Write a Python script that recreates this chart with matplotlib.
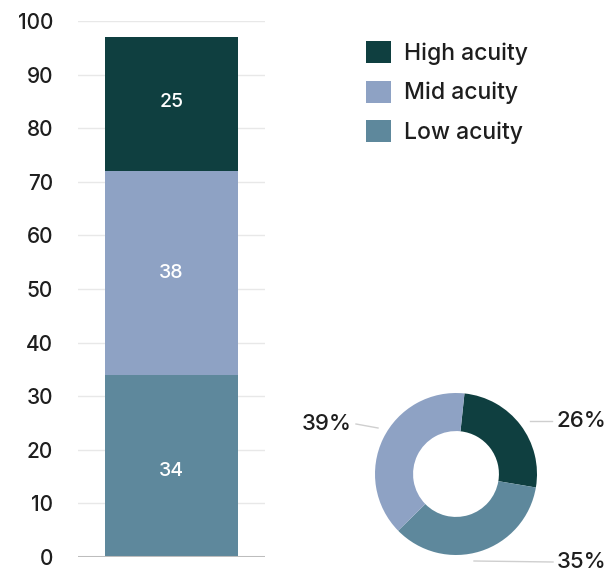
import matplotlib
matplotlib.use("Agg")
import matplotlib.pyplot as plt
from matplotlib.patches import Patch

plt.rcParams['font.family'] = ['Inter', 'DejaVu Sans']

categories = ["High acuity", "Mid acuity", "Low acuity"]
bar_values = [25, 38, 34]          # High, Mid, Low
pie_labels = ["26%", "35%", "39%"]  # High, Low, Mid (clockwise order)
pie_values = [26, 35, 39]
yticks = [0, 10, 20, 30, 40, 50, 60, 70, 80, 90, 100]

c_high = "#0f3f40"
c_mid = "#8ea2c4"
c_low = "#5e889c"
tc = "#1e1e1e"

W, H = 613, 575
fig = plt.figure(figsize=(W / 100, H / 100), dpi=100)

# ---- stacked bar ----
ax = fig.add_axes([78 / W, (H - 557) / H, 187 / W, 536 / H])
ax.set_xlim(-0.5, 0.5)
ax.set_ylim(0, 100)
for y in yticks[1:]:
    ax.axhline(y, color="#e8e8e8", lw=1.0, zorder=0)
ax.axhline(0, color="#bdbdbd", lw=2.2, zorder=3)

low, mid, high = bar_values[2], bar_values[1], bar_values[0]
bw = 0.71
ax.bar(0, low, width=bw, color=c_low, zorder=2)
ax.bar(0, mid, bottom=low, width=bw, color=c_mid, zorder=2)
ax.bar(0, high, bottom=low + mid, width=bw, color=c_high, zorder=2)
lab_kw = dict(color="white", ha="center", va="center", fontsize=14, fontweight="medium")
ax.text(0, low / 2 - 1, str(low), **lab_kw)
ax.text(0, low + mid / 2, str(mid), **lab_kw)
ax.text(0, low + mid + high / 2 + 0.3, str(high), **lab_kw)

ax.set_yticks(yticks)
ax.set_yticklabels([str(t) for t in yticks], fontsize=15, color=tc, fontweight="medium")
ax.tick_params(axis="y", length=0, pad=18)
ax.set_xticks([])
for s in ax.spines.values():
    s.set_visible(False)

# ---- legend ----
handles = [Patch(facecolor=c_high), Patch(facecolor=c_mid), Patch(facecolor=c_low)]
leg = fig.legend(handles, categories, loc="upper left", bbox_to_anchor=(357 / W, 1 - 32 / H),
                 frameon=False, prop=dict(size=16.5, weight="medium"),
                 handlelength=1.1, handleheight=1.1,
                 handletextpad=0.55, labelspacing=0.68, borderaxespad=0, labelcolor=tc)

# ---- donut ----
cx, cy, r = 456, 474, 81
ax2 = fig.add_axes([(cx - r) / W, (H - cy - r) / H, 2 * r / W, 2 * r / H])
ax2.pie(pie_values, colors=[c_high, c_low, c_mid], startangle=84, counterclock=False,
        radius=1, wedgeprops=dict(width=0.47, edgecolor="none"))
ax2.set_xlim(-1, 1)
ax2.set_ylim(-1, 1)
ax2.set_aspect("auto")
ax2.axis("off")

def px(x, y):
    return ((x - cx) / r, (cy - y) / r)

lc = "#cfcfcf"
pkw = dict(va="center", fontsize=16, color=tc, fontweight="medium")
# 26%
x0, y0 = px(530, 421); x1, y1 = px(552, 421)
ax2.plot([x0, x1], [y0, y1], color=lc, lw=1, clip_on=False)
tx, ty = px(557, 421)
ax2.text(tx, ty, pie_labels[0], ha="left", **pkw)
# 39%
x0, y0 = px(356, 424); x1, y1 = px(378, 428)
ax2.plot([x0, x1], [y0, y1], color=lc, lw=1, clip_on=False)
tx, ty = px(352, 424)
ax2.text(tx, ty, pie_labels[2], ha="right", **pkw)
# 35%
x0, y0 = px(474, 561); x1, y1 = px(553, 562)
ax2.plot([x0, x1], [y0, y1], color=lc, lw=1, clip_on=False)
tx, ty = px(557, 562)
ax2.text(tx, ty, pie_labels[1], ha="left", **pkw)

fig.savefig("out.png", dpi=100)
